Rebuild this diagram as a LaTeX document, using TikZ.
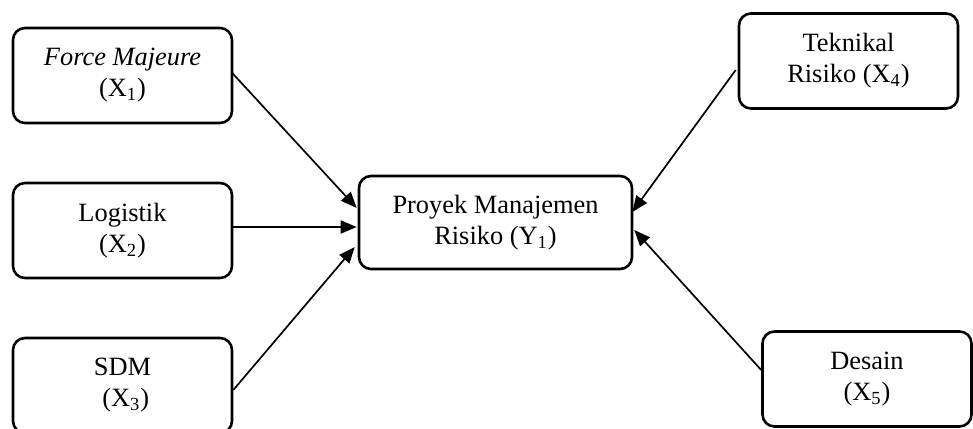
\documentclass[tikz,border=0pt]{standalone}
\usepackage{fontspec}
\setmainfont{Liberation Serif}
\usetikzlibrary{arrows.meta,calc}

\tikzset{
  varbox/.style={draw=black, line width=1.3pt, rounded corners=6pt,
    align=center, inner sep=0pt,
    font=\fontsize{13.2}{15.5}\selectfont},
  sidebox/.style={varbox, minimum width=109.5pt, minimum height=47.5pt},
  link/.style={line width=0.85pt, -{Triangle[length=8pt,width=6.5pt]}}
}

\begin{document}
\begin{tikzpicture}[x=0.5pt, y=-0.5pt]
  \useasboundingbox (0,0) rectangle (973,428);

  % independent variables (left column)
  \node[sidebox] (force) at (122.5,75.5) {\textit{Force Majeure}\\(X\textsubscript{1})};
  \node[sidebox] (logistik) at (122.5,230.5) {Logistik\\(X\textsubscript{2})};
  \node[sidebox] (sdm) at (122.5,385.5) {SDM\\\hspace*{0.25em}(X\textsubscript{3})};

  % dependent variable
  \node[varbox, minimum width=136.5pt, minimum height=46.5pt] (proyek) at (495.5,222.5)
    {Proyek Manajemen\\Risiko (Y\textsubscript{1})};

  % independent variables (right column)
  \node[sidebox] (teknikal) at (848.5,61) {Teknikal\\Risiko (X\textsubscript{4})};
  \node[sidebox, minimum width=104.5pt] (desain) at (867,379) {Desain\\(X\textsubscript{5})};

  % influences
  \draw[link] ($(force.east)+(-2,-3.5)$) -- ($(proyek.west)+(-1,-14.5)$);
  \draw[link] ($(logistik.east)+(0,-3.5)$) -- ($(proyek.west)+(-1,4.5)$);
  \draw[link] ($(sdm.east)+(0,4.5)$) -- ($(proyek.west)+(-3,24.5)$);
  \draw[link] ($(teknikal.west)+(-2,9)$) -- ($(proyek.east)+(-1,-10.5)$);
  \draw[link] ($(desain.west)+(0,-9)$) -- ($(proyek.east)+(1,7.5)$);
\end{tikzpicture}
\end{document}
